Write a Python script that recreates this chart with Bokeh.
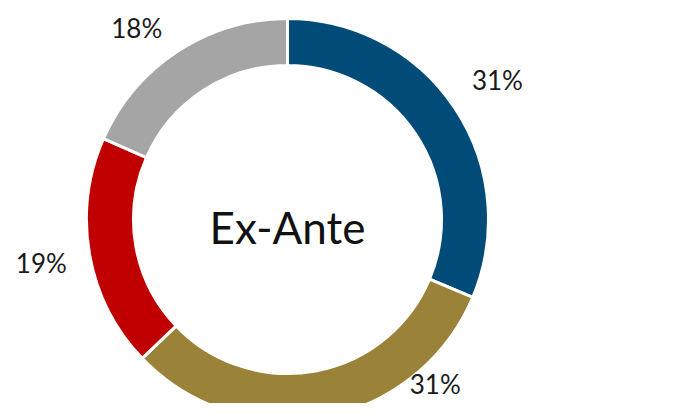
import numpy as np
from bokeh.plotting import figure
from bokeh.models import Range1d, ColumnDataSource
from bokeh.core.properties import value
from bokeh.embed import file_html
from bokeh.resources import INLINE

# ---- data ----
categories = ["A", "B", "C", "D"]
shares = [31.3, 31.5, 18.7, 18.4]
labels = ["31%", "31%", "19%", "18%"]
colors = ["#014B79", "#9B8239", "#C00000", "#A5A5A5"]
center_title = "Ex-Ante"

# ---- layout ----
W, H = 666, 403
cx, cy = 287, 184
r_out, r_in = 201, 154
label_r = [252, 221, 250, 244]
label_shift_deg = [0, 31.5, 0, 5]

total = sum(shares)
fracs = np.array(shares) / total
cum = np.concatenate([[0], np.cumsum(fracs)])
start = np.pi / 2 - cum[1:] * 2 * np.pi
end = np.pi / 2 - cum[:-1] * 2 * np.pi
mid = (start + end) / 2 + np.radians(label_shift_deg)

src = ColumnDataSource(dict(cat=categories, start=start, end=end, color=colors))

p = figure(width=W, height=H, output_backend="svg", toolbar_location=None,
           x_range=Range1d(0, W), y_range=Range1d(0, H),
           x_axis_type=None, y_axis_type=None, min_border=0)
p.grid.visible = False
p.outline_line_color = None
p.background_fill_color = "white"
p.border_fill_color = "white"

p.annular_wedge(x=cx, y=cy, inner_radius=r_in, outer_radius=r_out,
                start_angle="start", end_angle="end", fill_color="color",
                line_color="white", line_width=3, source=src)

lx = cx + np.array(label_r) * np.cos(mid)
ly = cy + np.array(label_r) * np.sin(mid)
p.text(x=lx, y=ly, text=labels, text_align="center", text_baseline="middle",
       text_font=value("Lato"), text_font_size="26px", text_color="#1a1a1a")

p.text(x=[cx], y=[cy - 7], text=[center_title], text_align="center",
       text_baseline="middle", text_font=value("Lato"), text_font_size="44px",
       text_color="#111111")

open("out.html", "w").write(file_html(p, INLINE))
